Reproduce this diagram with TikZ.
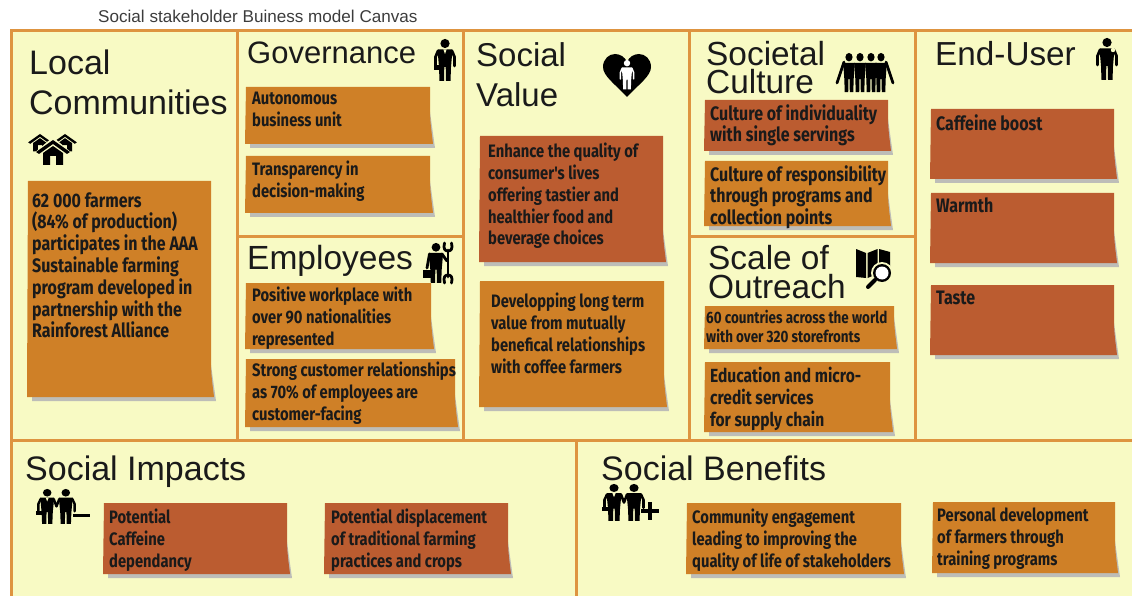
\documentclass[tikz,border=0pt]{standalone}
\usepackage{fontspec}
\setmainfont{Liberation Sans}
\newfontfamily\notefont[FakeStretch=0.82]{Fira Sans}
\definecolor{cream}{HTML}{F8FAC4}
\definecolor{frameline}{HTML}{DE9440}
\definecolor{noteorange}{HTML}{CF8027}
\definecolor{notered}{HTML}{BB5C30}
\definecolor{noteshade}{HTML}{BDBDB8}
\definecolor{ink}{HTML}{1A1A1A}
\newcommand{\stickynote}[5]{
    \fill[noteshade](#3,#4-32)--(#3+5,#4+4)--(#2+4,#4+4)--(#2+4,#4)--cycle;
    \fill[#5](#2,#1)--(#3,#1)--(#3,#4-35).. controls (#3,#4-20) and (#3+2,#4-10) ..(#3+3,#4)--(#2-1,#4)--cycle;
}
\tikzset{
    frame/.style={frameline,line width=3pt},
    heading/.style={anchor=north west,inner sep=0pt,align=left,text=ink},
    note/.style={anchor=north west,inner sep=0pt,align=left,text=ink,font=\notefont\bfseries\fontsize{18}{21.8}\selectfont},
    bignote/.style={note,font=\notefont\bfseries\fontsize{19.5}{21.8}\selectfont},
    limb/.style={line width=2.8pt,line cap=round,line join=round},
    torso/.pic={
        \fill (0,4.5) circle (4.6);
        \fill (-7.5,10.5)--(7.5,10.5)--(6,28)--(5.5,42)--(1,42)--(0.7,28)--(-0.7,28)--(-1,42)--(-5.5,42)--(-6,28)--cycle;
    },
    person/.pic={
        \pic[transform shape] at (0,0) {torso};
        \draw[limb] (-7,12)--(-9.5,18)--(-9.5,27);
        \draw[limb] (7,12)--(9.5,18)--(9.5,27);
    },
    suitman/.pic={
        \pic[transform shape] at (0,0) {person};
        \fill[cream] (-1.6,10.5)--(1.6,10.5)--(0,15)--cycle;
        \fill (-11.5,26) rectangle (-5,31);
    },
    pair/.pic={
        \pic[transform shape] at (-10,0) {torso};
        \pic[transform shape] at (10,0) {torso};
        \draw[limb] (-17,12)--(-19.5,18)--(-19.5,27);
        \draw[limb] (17,12)--(19.5,18)--(19.5,27);
        \draw[limb] (-3,12)--(0,21)--(3,12);
        \fill[cream] (-11.6,10.5)--(-8.4,10.5)--(-10,15)--cycle;
        \fill (-22,26) rectangle (-15.5,31);
    },
    house/.pic={
        \fill (-17,12)--(0,0)--(17,12)--(14,14)--(0,4)--(-14,14)--cycle;
        \fill (-10,13)--(0,6)--(10,13)--(10,25)--(3,25)--(3,16)--(-3,16)--(-3,25)--(-10,25)--cycle;
    }
}
\begin{document}
\begin{tikzpicture}[x=1pt,y=-1pt]
    \useasboundingbox (0,0) rectangle (1132,596);
    \fill[cream](11,31) rectangle (1132,596);
    \draw[frame](1132,31)--(11,31)--(11,596);
    \draw[frame](11,440)--(1132,440);
    \foreach \x in {237,463,689,915}
    {
        \draw[frame](\x,31)--(\x,440);
    }
    \draw[frame](576,440)--(576,596);
    \draw[frame](237,236)--(463,236);
    \draw[frame](689,236)--(915,236);

    \node[inner sep=0pt,anchor=base west,text=ink!85,font=\fontsize{17.1}{18}\selectfont] (canvastitle) at (98,23) {Social stakeholder Buiness model Canvas};

    \node[heading,font=\fontsize{34}{40}\selectfont] (localhead) at (29,50) {Local\\Communities};
    \node[heading,font=\fontsize{31}{36}\selectfont] (govhead) at (247,42) {Governance};
    \node[heading,font=\fontsize{33.5}{36}\selectfont] (emphead) at (247,245) {Employees};
    \node[heading,font=\fontsize{33}{40}\selectfont] (valuehead) at (476,42) {Social\\Value};
    \node[heading,font=\fontsize{33.4}{28}\selectfont] (culturehead) at (706,41) {Societal\\Culture};
    \node[heading,font=\fontsize{33.4}{29}\selectfont] (scalehead) at (708,245) {Scale of\\Outreach};
    \node[heading,font=\fontsize{33.3}{36}\selectfont] (userhead) at (935,41) {End-User};
    \node[heading,font=\fontsize{34}{36}\selectfont] (impacthead) at (25,456) {Social Impacts};
    \node[heading,font=\fontsize{34}{36}\selectfont] (benefithead) at (601,456) {Social Benefits};

    \stickynote{181}{28}{211}{397}{noteorange}
    \node[bignote] at (32,192)(farmers){62 000 farmers\\(84\% of production)\\participates in the AAA\\Sustainable farming\\program developed in\\partnership with the\\Rainforest Alliance};
    \stickynote{87}{246}{430}{144}{noteorange}
    \node[note] at (252,92)(autonomous){Autonomous\\business unit};
    \stickynote{156}{246}{430}{213}{noteorange}
    \node[note] at (252,161)(transparency){Transparency in\\decision-making};
    \stickynote{283}{246}{431}{349}{noteorange}
    \node[note] at (252,287)(workplace){Positive workplace with\\over 90 nationalities\\represented};
    \stickynote{359}{246}{455}{427}{noteorange}
    \node[note] at (252,362)(relations){Strong customer relationships\\as 70\% of employees are\\customer-facing};
    \stickynote{136}{480}{663}{262}{notered}
    \node[note] at (488,143)(quality){Enhance the quality of\\consumer's lives\\offering tastier and\\healthier food and\\beverage choices};
    \stickynote{281}{480}{664}{407}{noteorange}
    \node[note] at (491,293)(longterm){Developping long term\\value from mutually\\benefical relationships\\with coffee farmers};
    \stickynote{100}{705}{888}{151}{notered}
    \node[bignote] at (710,104)(individual){Culture of individuality\\with single servings};
    \stickynote{161}{705}{888}{226}{noteorange}
    \node[bignote] at (710,165)(responsible){Culture of responsibility\\through programs and\\collection points};
    \stickynote{306}{705}{894}{349}{noteorange}
    \node[note,font=\notefont\bfseries\fontsize{16.4}{19}\selectfont] at (706,310)(countries){60 countries across the world\\with over 320 storefronts};
    \stickynote{362}{705}{890}{432}{noteorange}
    \node[note,font=\notefont\bfseries\fontsize{19}{21.8}\selectfont] at (710,367)(education){Education and micro-\\credit services\\for supply chain};
    \stickynote{109}{931}{1114}{179}{notered}
    \node[bignote] at (936,114)(caffeine){Caffeine boost};
    \stickynote{193}{931}{1114}{263}{notered}
    \node[bignote] at (936,198)(warmth){Warmth};
    \stickynote{285}{931}{1114}{355}{notered}
    \node[bignote] at (936,291)(taste){Taste};
    \stickynote{503}{104}{287}{574}{notered}
    \node[note] at (109,509)(dependancy){Potential\\Caffeine\\dependancy};
    \stickynote{503}{325}{508}{574}{notered}
    \node[note] at (331,509)(displacement){Potential displacement\\of traditional farming\\practices and crops};
    \stickynote{503}{687}{901}{574}{noteorange}
    \node[note] at (692,509)(community){Community engagement\\leading to improving the\\quality of life of stakeholders};
    \stickynote{502}{933}{1115}{573}{noteorange}
    \node[note] at (937,508)(training){Personal development\\of farmers through\\training programs};

    % icons
    \pic[transform shape,scale=.7] at (65,134) {house};
    \pic[transform shape,scale=.7] at (40,134) {house};
    \fill[cream](33,154)--(53,137)--(73,154)--(67,168)--(40,168)--cycle;
    \pic at (53,140) {house};
    \pic at (445,39) {suitman};
    \pic at (1107,38) {person};
    \fill[cream](1113,50) circle (2.2);
    \fill (627,97).. controls (615,84) and (603,76) ..(603,67).. controls (603,59) and (609,54) ..(615,54).. controls (620,54) and (625,57) ..(627,62).. controls (629,57) and (634,54) ..(639,54).. controls (645,54) and (651,59) ..(651,67).. controls (651,76) and (639,84) ..(627,97)--cycle;
    \pic[transform shape,white,scale=.7,limb/.append style={line width=1.5pt}] at (627,60) {person};
    \pic[transform shape,scale=.95] at (436,243) {torso};
    \draw[limb] (429.5,254)--(427,268);
    \draw[limb] (442,254)--(447,261);
    \fill (423,270) rectangle (432,278);
    \draw[limb] (448,250)--(448,277);
    \draw[limb] (444.5,243).. controls (443,249) and (445,251) ..(448,251).. controls (451,251) and (453,249) ..(451.5,243);
    \draw[limb] (444.5,283).. controls (443,277) and (445,275) ..(448,275).. controls (451,275) and (453,277) ..(451.5,283);
    \foreach \x in {849,860,871,881}
    {
        \pic[transform shape,xscale=.78,yscale=.93] at (\x,53) {torso};
    }
    \draw[limb] (844,62)--(837,83);
    \draw[limb] (886,62)--(893,83);
    \fill (856,249)--(866,253)--(866,278)--(856,277)--cycle;
    \fill (867.5,253)--(877.5,249)--(877.5,274)--(867.5,278)--cycle;
    \fill (879,249)--(890,252)--(890,276)--(879,274)--cycle;
    \fill[cream](882,273) circle (11);
    \draw[limb,line width=4pt] (875,280)--(868,287);
    \fill (882,273) circle (9);
    \fill[white](882,273) circle (6.5);
    \pic[transform shape,xscale=.93,yscale=.83,limb/.append style={line width=2.4pt}] at (56.5,489) {pair};
    \fill (73,513.5) rectangle (90,517);
    \pic[transform shape,yscale=.88,limb/.append style={line width=2.6pt}] at (624,484) {pair};
    \fill (641,509) rectangle (659,513);
    \fill (648,502) rectangle (652,520);
\end{tikzpicture}
\end{document}
